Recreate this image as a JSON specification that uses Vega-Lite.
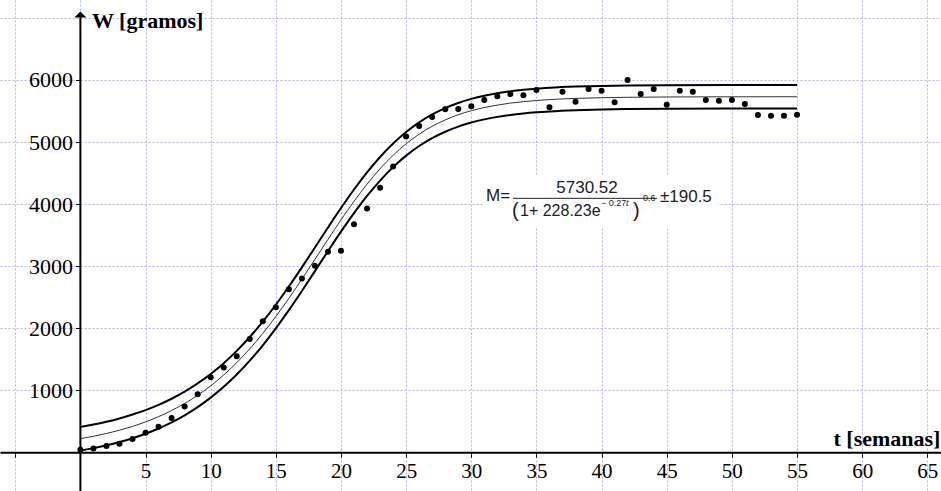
{
  "$schema": "https://vega.github.io/schema/vega-lite/v6.json",
  "width": 941,
  "height": 491,
  "autosize": {"type": "none"},
  "padding": 0,
  "background": "white",
  "config": {"view": {"stroke": null}, "axis": {"labelFont": "Liberation Serif", "labelColor": "black"}},
  "datasets": {
    "obs": [
      {"t": 0, "W": 43}, {"t": 1, "W": 60}, {"t": 2, "W": 102}, {"t": 3, "W": 140},
      {"t": 4, "W": 215}, {"t": 5, "W": 314}, {"t": 6, "W": 414}, {"t": 7, "W": 554},
      {"t": 8, "W": 737}, {"t": 9, "W": 935}, {"t": 10, "W": 1210}, {"t": 11, "W": 1366},
      {"t": 12, "W": 1548}, {"t": 13, "W": 1828}, {"t": 14, "W": 2113}, {"t": 15, "W": 2339},
      {"t": 16, "W": 2629}, {"t": 17, "W": 2800}, {"t": 18, "W": 3005}, {"t": 19, "W": 3231},
      {"t": 20, "W": 3247}, {"t": 21, "W": 3677}, {"t": 22, "W": 3930}, {"t": 23, "W": 4263},
      {"t": 24, "W": 4608}, {"t": 25, "W": 5091}, {"t": 26, "W": 5258}, {"t": 27, "W": 5403},
      {"t": 28, "W": 5527}, {"t": 29, "W": 5532}, {"t": 30, "W": 5575}, {"t": 31, "W": 5677},
      {"t": 32, "W": 5740}, {"t": 33, "W": 5774}, {"t": 34, "W": 5753}, {"t": 35, "W": 5839},
      {"t": 36, "W": 5559}, {"t": 37, "W": 5812}, {"t": 38, "W": 5651}, {"t": 39, "W": 5855},
      {"t": 40, "W": 5828}, {"t": 41, "W": 5640}, {"t": 42, "W": 6000}, {"t": 43, "W": 5774},
      {"t": 44, "W": 5855}, {"t": 45, "W": 5602}, {"t": 46, "W": 5828}, {"t": 47, "W": 5812},
      {"t": 48, "W": 5677}, {"t": 49, "W": 5666}, {"t": 50, "W": 5677}, {"t": 51, "W": 5613},
      {"t": 52, "W": 5435}, {"t": 53, "W": 5424}, {"t": 54, "W": 5424}, {"t": 55, "W": 5440}
    ],
    "model": [
      {"t": 0, "M": 219.8, "sup": 410.3, "inf": 29.3},
      {"t": 1, "M": 258.3, "sup": 448.8, "inf": 67.8},
      {"t": 2, "M": 303.4, "sup": 493.9, "inf": 112.9},
      {"t": 3, "M": 356.2, "sup": 546.7, "inf": 165.7},
      {"t": 4, "M": 418.1, "sup": 608.6, "inf": 227.6},
      {"t": 5, "M": 490.4, "sup": 680.9, "inf": 299.9},
      {"t": 6, "M": 574.9, "sup": 765.4, "inf": 384.4},
      {"t": 7, "M": 673.3, "sup": 863.8, "inf": 482.8},
      {"t": 8, "M": 787.6, "sup": 978.1, "inf": 597.1},
      {"t": 9, "M": 919.8, "sup": 1110.3, "inf": 729.3},
      {"t": 10, "M": 1072.2, "sup": 1262.7, "inf": 881.7},
      {"t": 11, "M": 1246.6, "sup": 1437.1, "inf": 1056.1},
      {"t": 12, "M": 1444.8, "sup": 1635.3, "inf": 1254.3},
      {"t": 13, "M": 1667.9, "sup": 1858.4, "inf": 1477.4},
      {"t": 14, "M": 1915.9, "sup": 2106.4, "inf": 1725.4},
      {"t": 15, "M": 2188.1, "sup": 2378.6, "inf": 1997.6},
      {"t": 16, "M": 2481.2, "sup": 2671.7, "inf": 2290.7},
      {"t": 17, "M": 2790.8, "sup": 2981.3, "inf": 2600.3},
      {"t": 18, "M": 3110.4, "sup": 3300.9, "inf": 2919.9},
      {"t": 19, "M": 3431.7, "sup": 3622.2, "inf": 3241.2},
      {"t": 20, "M": 3746.2, "sup": 3936.7, "inf": 3555.7},
      {"t": 21, "M": 4045.2, "sup": 4235.7, "inf": 3854.7},
      {"t": 22, "M": 4321.2, "sup": 4511.7, "inf": 4130.7},
      {"t": 23, "M": 4569.2, "sup": 4759.7, "inf": 4378.7},
      {"t": 24, "M": 4786.1, "sup": 4976.6, "inf": 4595.6},
      {"t": 25, "M": 4971.4, "sup": 5161.9, "inf": 4780.9},
      {"t": 26, "M": 5126.5, "sup": 5317.0, "inf": 4936.0},
      {"t": 27, "M": 5253.9, "sup": 5444.4, "inf": 5063.4},
      {"t": 28, "M": 5357.0, "sup": 5547.5, "inf": 5166.5},
      {"t": 29, "M": 5439.6, "sup": 5630.1, "inf": 5249.1},
      {"t": 30, "M": 5504.8, "sup": 5695.3, "inf": 5314.3},
      {"t": 31, "M": 5556.1, "sup": 5746.6, "inf": 5365.6},
      {"t": 32, "M": 5596.0, "sup": 5786.5, "inf": 5405.5},
      {"t": 33, "M": 5627.1, "sup": 5817.6, "inf": 5436.6},
      {"t": 34, "M": 5651.1, "sup": 5841.6, "inf": 5460.6},
      {"t": 35, "M": 5669.7, "sup": 5860.2, "inf": 5479.2},
      {"t": 36, "M": 5683.9, "sup": 5874.4, "inf": 5493.4},
      {"t": 38, "M": 5703.2, "sup": 5893.7, "inf": 5512.7},
      {"t": 40, "M": 5714.6, "sup": 5905.1, "inf": 5524.1},
      {"t": 42, "M": 5721.2, "sup": 5911.7, "inf": 5530.7},
      {"t": 45, "M": 5726.4, "sup": 5916.9, "inf": 5535.9},
      {"t": 50, "M": 5729.4, "sup": 5919.9, "inf": 5538.9},
      {"t": 55, "M": 5730.2, "sup": 5920.7, "inf": 5539.7}
    ]
  },
  "encoding": {
    "x": {
      "field": "t", "type": "quantitative",
      "scale": {"domain": [-6.17, 66.05], "nice": false, "zero": false},
      "axis": {
        "orient": "bottom", "offset": -38.7, "title": null, "format": "d",
        "values": [-5, 0, 5, 10, 15, 20, 25, 30, 35, 40, 45, 50, 55, 60, 65],
        "grid": true, "gridColor": "#b0b0f2", "gridDash": [2, 2], "gridWidth": 1,
        "domain": true, "domainColor": "black", "domainWidth": 2,
        "ticks": true, "tickColor": "black", "tickSize": 5, "tickWidth": 1,
        "labelExpr": "datum.value <= 0 ? '' : datum.label",
        "labelFont": "Liberation Serif", "labelFontSize": 21, "labelColor": "black",
        "labelPadding": 3, "labelFlush": false, "labelOverlap": false
      }
    },
    "y": {
      "field": "W", "type": "quantitative",
      "scale": {"domain": [-623, 7289], "nice": false, "zero": false},
      "axis": {
        "orient": "left", "offset": -80.4, "title": null, "format": "d",
        "values": [0, 1000, 2000, 3000, 4000, 5000, 6000, 7000],
        "grid": true, "gridColor": "#b0b0f2", "gridDash": [2, 2], "gridWidth": 1,
        "domain": false,
        "ticks": true, "tickColor": "black", "tickSize": 5, "tickWidth": 1,
        "tickOpacity": {"condition": {"test": "datum.value <= 0 || datum.value > 6000", "value": 0}, "value": 1},
        "labelExpr": "datum.value <= 0 || datum.value > 6000 ? '' : datum.label",
        "labelFont": "Liberation Serif", "labelFontSize": 22, "labelColor": "black",
        "labelPadding": 3, "labelFlush": false, "labelOverlap": false
      }
    }
  },
  "layer": [
    {
      "data": {"values": [{"t": 31.0, "t2": 48.93, "W": 4463, "W2": 3642}]},
      "mark": {"type": "rect", "color": "white"},
      "encoding": {"x2": {"field": "t2"}, "y2": {"field": "W2"}}
    },
    {
      "data": {"values": [{"t": 0, "W": -623, "W2": 7006}]},
      "mark": {"type": "rule", "color": "black", "strokeWidth": 2},
      "encoding": {"y2": {"field": "W2"}}
    },
    {
      "data": {"values": [{"t": 0, "W": 7055}]},
      "mark": {"type": "point", "shape": "M-1,0.5L0,-0.5L1,0.5Z", "filled": true, "color": "black", "size": 144, "opacity": 1},
      "encoding": {}
    },
    {
      "data": {"name": "model"},
      "mark": {"type": "line", "color": "black", "strokeWidth": 2, "interpolate": "monotone"},
      "encoding": {"y": {"field": "sup", "type": "quantitative"}}
    },
    {
      "data": {"name": "model"},
      "mark": {"type": "line", "color": "black", "strokeWidth": 2, "interpolate": "monotone"},
      "encoding": {"y": {"field": "inf", "type": "quantitative"}}
    },
    {
      "data": {"name": "model"},
      "mark": {"type": "line", "color": "#333333", "strokeWidth": 1, "interpolate": "monotone"},
      "encoding": {"y": {"field": "M", "type": "quantitative"}}
    },
    {
      "data": {"name": "obs"},
      "mark": {"type": "circle", "color": "black", "size": 36, "opacity": 1}
    },
    {
      "data": {"values": [{"t": 0.89, "W": 6830, "label": "W [gramos]"}, {"t": 57.8, "W": 106, "label": "t [semanas]"}]},
      "mark": {"type": "text", "font": "Liberation Serif", "fontSize": 22, "fontWeight": "bold", "align": "left", "baseline": "alphabetic", "color": "black"},
      "encoding": {"text": {"field": "label"}}
    },
    {
      "data": {"values": [{"t": 31.13, "W": 4045, "label": "M="}, {"t": 44.48, "W": 4029, "label": "±190.5"}]},
      "mark": {"type": "text", "font": "Liberation Sans", "fontSize": 17, "align": "left", "baseline": "alphabetic", "color": "#222222"},
      "encoding": {"text": {"field": "label"}}
    },
    {
      "data": {"values": [{"t": 33.74, "W": 3803, "label": "1+ 228.23e"}]},
      "mark": {"type": "text", "font": "Liberation Sans", "fontSize": 16, "align": "left", "baseline": "alphabetic", "color": "#222222"},
      "encoding": {"text": {"field": "label"}}
    },
    {
      "data": {"values": [{"t": 38.88, "W": 4173, "label": "5730.52"}]},
      "mark": {"type": "text", "font": "Liberation Sans", "fontSize": 17, "align": "center", "baseline": "alphabetic", "color": "#222222"},
      "encoding": {"text": {"field": "label"}}
    },
    {
      "data": {"values": [{"t": 33.2, "t2": 44.25, "W": 4093}]},
      "mark": {"type": "rule", "color": "#222222", "strokeWidth": 1},
      "encoding": {"x2": {"field": "t2"}}
    },
    {
      "data": {"values": [{"t": 33.12, "W": 3787, "label": "("}, {"t": 42.41, "W": 3787, "label": ")"}]},
      "mark": {"type": "text", "font": "Liberation Sans", "fontSize": 20, "align": "left", "baseline": "alphabetic", "color": "#222222"},
      "encoding": {"text": {"field": "label"}}
    },
    {
      "data": {"values": [{"t": 39.95, "W": 3964, "label": "− 0.27"}]},
      "mark": {"type": "text", "font": "Liberation Sans", "fontSize": 9, "align": "left", "baseline": "alphabetic", "color": "#222222"},
      "encoding": {"text": {"field": "label"}}
    },
    {
      "data": {"values": [{"t": 41.87, "W": 3964, "label": "t"}]},
      "mark": {"type": "text", "font": "Liberation Sans", "fontSize": 9, "fontStyle": "italic", "align": "left", "baseline": "alphabetic", "color": "#222222"},
      "encoding": {"text": {"field": "label"}}
    },
    {
      "data": {"values": [{"t": 43.18, "W": 4045, "label": "0.6"}]},
      "mark": {"type": "text", "font": "Liberation Sans", "fontSize": 9, "align": "left", "baseline": "alphabetic", "color": "#222222"},
      "encoding": {"text": {"field": "label"}}
    }
  ]
}
